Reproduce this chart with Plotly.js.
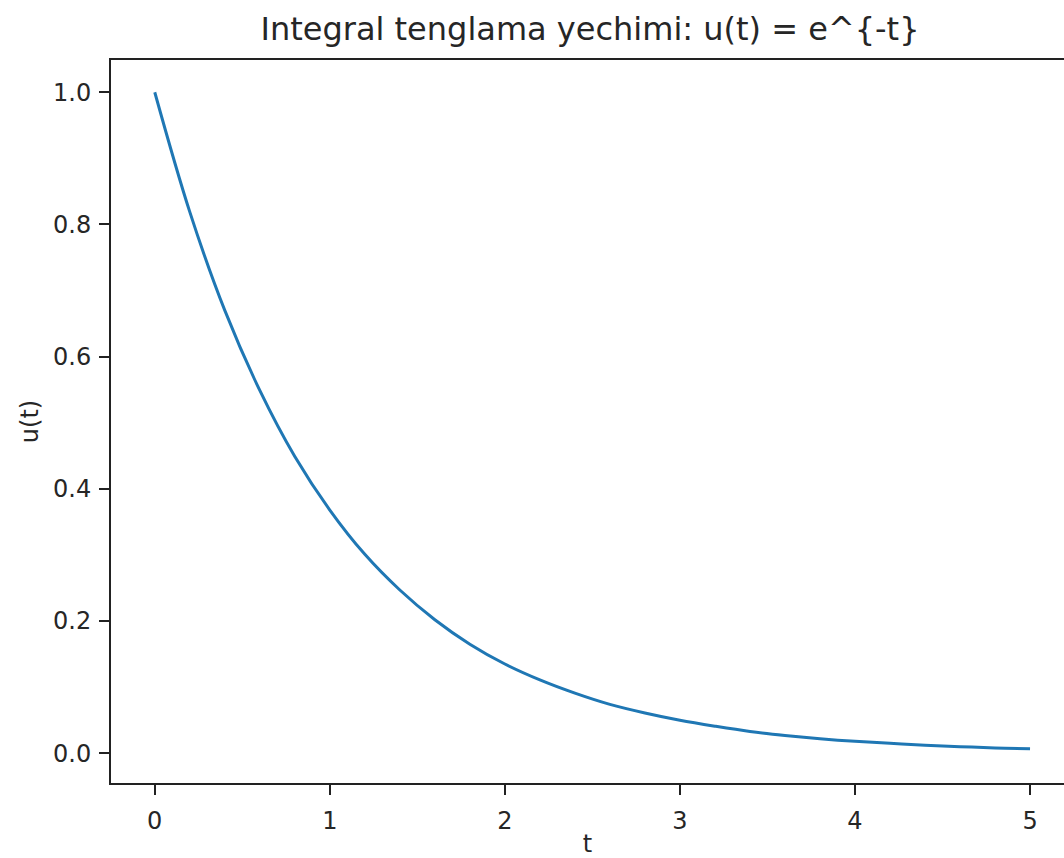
<!DOCTYPE html>
<html>
<head>
<meta charset="utf-8">
<script src="https://cdn.plot.ly/plotly-3.0.1.min.js"></script>
<style>html,body{margin:0;padding:0;overflow:hidden;background:#fff;}</style>
</head>
<body>
<div id="chart" style="width:1064px;height:858px;"></div>
<script>
const tValues = [0, 0.2, 0.4, 0.6, 0.8, 1.0, 1.2, 1.4, 1.6, 1.8, 2.0, 2.2, 2.4, 2.6, 2.8, 3.0, 3.2, 3.4, 3.6, 3.8, 4.0, 4.2, 4.4, 4.6, 4.8, 5.0];
const uValues = [1.0, 0.819, 0.670, 0.549, 0.449, 0.368, 0.301, 0.247, 0.202, 0.165, 0.135, 0.111, 0.091, 0.074, 0.061, 0.050, 0.041, 0.033, 0.027, 0.022, 0.018, 0.015, 0.012, 0.010, 0.008, 0.007];
const xTicks = [0, 1, 2, 3, 4, 5];
const yTicks = [0.0, 0.2, 0.4, 0.6, 0.8, 1.0];
const yTickLabels = ["0.0", "0.2", "0.4", "0.6", "0.8", "1.0"];

const font = {family: "DejaVu Sans", color: "#262626"};
const trace = {
  x: tValues, y: uValues, type: "scatter", mode: "lines",
  line: {color: "#1f77b4", width: 3, shape: "spline"},
  hoverinfo: "skip"
};
const layout = {
  width: 1064, height: 858,
  margin: {l: 111, r: 0, t: 60, b: 75},
  paper_bgcolor: "#fff", plot_bgcolor: "#fff",
  showlegend: false,
  font: Object.assign({size: 24}, font),
  title: {text: "Integral tenglama yechimi: u(t) = e^{-t}", x: 590/1064, xanchor: "center", xref: "container",
          y: 1 - 29/858, yanchor: "middle", yref: "container", font: Object.assign({size: 32}, font)},
  xaxis: {range: [-0.25, 5.194], tickvals: xTicks, ticktext: xTicks.map(String),
          showline: true, linecolor: "#222", linewidth: 2, mirror: true,
          ticks: "outside", ticklen: 10, tickwidth: 2, tickcolor: "#222",
          ticklabelstandoff: 5,
          showgrid: false, zeroline: false,
          tickfont: Object.assign({size: 24}, font),
          title: {text: "t", font: Object.assign({size: 24}, font), standoff: 22}},
  yaxis: {range: [-0.045, 1.0488], tickvals: yTicks, ticktext: yTickLabels,
          showline: true, linecolor: "#222", linewidth: 2, mirror: false,
          ticks: "outside", ticklen: 10, tickwidth: 2, tickcolor: "#222",
          ticklabelstandoff: 3,
          showgrid: false, zeroline: false,
          tickfont: Object.assign({size: 24}, font),
          title: {text: "u(t)", font: Object.assign({size: 24}, font), standoff: 8}}
};
Plotly.newPlot("chart", [trace], layout, {displayModeBar: false, staticPlot: true});
</script>
</body>
</html>
